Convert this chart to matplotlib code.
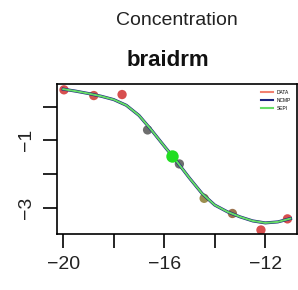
import matplotlib
matplotlib.use('Agg')
import matplotlib.pyplot as plt

# observed points
obs_x = [-19.97, -18.79, -17.67, -16.66, -15.40, -14.42, -13.30, -12.17, -11.12]
obs_y = [0.50, 0.33, 0.36, -0.69, -1.70, -2.72, -3.17, -3.66, -3.33]
obs_col = ['#d03030', '#c83a30', '#d03030', '#555555', '#555555', '#8a7a30', '#8a5a30', '#d03030', '#d03030']

# highlighted point
hi_x = [-15.68]
hi_y = [-1.47]

# fitted curves
fit_x = [-20.0, -19.5, -19.0, -18.5, -18.0, -17.5, -17.0, -16.5, -16.0, -15.5,
         -15.0, -14.5, -14.0, -13.5, -13.0, -12.5, -12.0, -11.5, -11.0]
fit_y = [0.52, 0.46, 0.39, 0.31, 0.21, 0.04, -0.26, -0.70, -1.17, -1.63,
         -2.12, -2.58, -2.92, -3.12, -3.27, -3.39, -3.45, -3.42, -3.32]

series = ['DATA', 'NCMP', 'SEPI']
series_col = ['#f08070', '#1a237e', '#66dd66']

xticks = [-20, -18, -16, -14, -12]
xticklabels = ['\u221220', '', '\u221216', '', '\u221212']
yticks = [0, -1, -2, -3]
yticklabels = ['', '\u22121', '', '\u22123']

plt.rcParams['font.family'] = ['Liberation Sans', 'DejaVu Sans']
fig = plt.figure(figsize=(2.98, 2.90), dpi=100)
ax = fig.add_axes([0.191, 0.193, 0.805, 0.517])

ax.scatter(obs_x, obs_y, s=45, c=obs_col, alpha=0.85, zorder=2, linewidths=0)
ax.plot(fit_x, fit_y, color=series_col[1], lw=2.2, zorder=3)
ax.plot(fit_x, fit_y, color=series_col[2], lw=1.4, zorder=4)
ax.scatter(hi_x, hi_y, s=80, c='#22dd22', zorder=5, linewidths=0)

for name, col in zip(series, series_col):
    ax.plot([], [], color=col, lw=1.5, label=name)
ax.legend(loc='upper right', frameon=False, fontsize=3.5, handlelength=2.5,
          borderaxespad=0.8, labelspacing=0.6)

ax.set_xlim(-20.25, -10.75)
ax.set_ylim(-3.78, 0.67)
ax.set_xticks(xticks)
ax.set_xticklabels(xticklabels, fontsize=14, color='#222222')
ax.set_yticks(yticks)
ax.set_yticklabels(yticklabels, fontsize=14, rotation=90, va='center', color='#222222')
ax.tick_params(direction='out', length=10, width=1.2, pad=6)
for s in ax.spines.values():
    s.set_linewidth(1.2)

fig.text(0.594, 0.93, 'Concentration', ha='center', va='center', fontsize=14, color='#222222')
fig.text(0.565, 0.79, 'braidrm', ha='center', va='center', fontsize=16, fontweight='bold', color='#111111')

plt.savefig('out.png', dpi=100)
